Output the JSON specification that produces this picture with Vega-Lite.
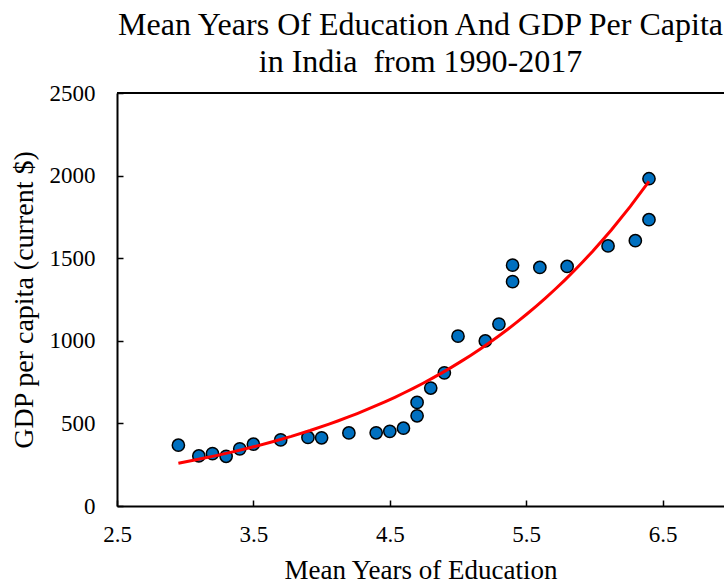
{
  "$schema": "https://vega.github.io/schema/vega-lite/v6.json",
  "width": 607,
  "height": 413,
  "autosize": {"type": "none"},
  "padding": {"left": 117, "top": 93, "right": 0, "bottom": 80},
  "background": "white",
  "config": {"view": {"stroke": null}, "font": "Liberation Serif"},
  "title": {
    "text": ["Mean Years Of Education And GDP Per Capita", "in India\u00a0 from 1990-2017"],
    "font": "Liberation Serif",
    "fontSize": 32,
    "fontWeight": "normal",
    "color": "black",
    "lineHeight": 37,
    "offset": 3,
    "anchor": "middle",
    "frame": "group"
  },
  "data": {
    "values": [
      {"year": 1990, "edu": 2.95, "gdp": 368},
      {"year": 1991, "edu": 3.1, "gdp": 303},
      {"year": 1992, "edu": 3.2, "gdp": 317},
      {"year": 1993, "edu": 3.3, "gdp": 301},
      {"year": 1994, "edu": 3.4, "gdp": 346},
      {"year": 1995, "edu": 3.5, "gdp": 374},
      {"year": 1996, "edu": 3.7, "gdp": 400},
      {"year": 1997, "edu": 3.9, "gdp": 415},
      {"year": 1998, "edu": 4.0, "gdp": 413},
      {"year": 1999, "edu": 4.2, "gdp": 442},
      {"year": 2000, "edu": 4.4, "gdp": 443},
      {"year": 2001, "edu": 4.5, "gdp": 452},
      {"year": 2002, "edu": 4.6, "gdp": 471},
      {"year": 2003, "edu": 4.7, "gdp": 546},
      {"year": 2004, "edu": 4.7, "gdp": 627},
      {"year": 2005, "edu": 4.8, "gdp": 714},
      {"year": 2006, "edu": 4.9, "gdp": 806},
      {"year": 2007, "edu": 5.0, "gdp": 1028},
      {"year": 2008, "edu": 5.2, "gdp": 999},
      {"year": 2009, "edu": 5.3, "gdp": 1101},
      {"year": 2010, "edu": 5.4, "gdp": 1358},
      {"year": 2011, "edu": 5.4, "gdp": 1458},
      {"year": 2012, "edu": 5.6, "gdp": 1444},
      {"year": 2013, "edu": 5.8, "gdp": 1450},
      {"year": 2014, "edu": 6.1, "gdp": 1574},
      {"year": 2015, "edu": 6.3, "gdp": 1606},
      {"year": 2016, "edu": 6.4, "gdp": 1733},
      {"year": 2017, "edu": 6.4, "gdp": 1981}
    ]
  },
  "layer": [
    {
      "mark": {"type": "rule", "color": "black", "strokeWidth": 2},
      "encoding": {"y": {"datum": 2500, "type": "quantitative"}}
    },
    {
      "mark": {"type": "circle", "size": 150, "fill": "#0070C0", "stroke": "black", "strokeWidth": 1.5, "opacity": 1},
      "encoding": {
        "x": {
          "field": "edu",
          "type": "quantitative",
          "scale": {"domain": [2.5, 6.95], "nice": false, "zero": false},
          "axis": {
            "values": [2.5, 3.5, 4.5, 5.5, 6.5],
            "format": ".1f",
            "title": "Mean Years of Education",
            "grid": false,
            "labelFlush": false,
            "labelOverlap": false,
            "domainColor": "black",
            "domainWidth": 2,
            "tickColor": "black",
            "tickSize": -6,
            "tickWidth": 1.5,
            "labelFont": "Liberation Serif",
            "labelFontSize": 23,
            "labelColor": "black",
            "labelPadding": 23,
            "titleFont": "Liberation Serif",
            "titleFontSize": 27,
            "titleFontWeight": "normal",
            "titleColor": "black",
            "titlePadding": 11
          }
        },
        "y": {
          "field": "gdp",
          "type": "quantitative",
          "scale": {"domain": [0, 2500], "nice": false},
          "axis": {
            "values": [0, 500, 1000, 1500, 2000, 2500],
            "format": "d",
            "title": "GDP per capita (current $)",
            "grid": false,
            "labelFlush": false,
            "labelOverlap": false,
            "domainColor": "black",
            "domainWidth": 2,
            "tickColor": "black",
            "tickSize": -6,
            "tickWidth": 1.5,
            "labelFont": "Liberation Serif",
            "labelFontSize": 23,
            "labelColor": "black",
            "labelPadding": 28,
            "titleFont": "Liberation Serif",
            "titleFontSize": 28,
            "titleFontWeight": "normal",
            "titleColor": "black",
            "titlePadding": 11
          }
        }
      }
    },
    {
      "transform": [{"regression": "gdp", "on": "edu", "method": "exp"}],
      "mark": {"type": "line", "color": "red", "strokeWidth": 3},
      "encoding": {
        "x": {"field": "edu", "type": "quantitative"},
        "y": {"field": "gdp", "type": "quantitative"}
      }
    }
  ]
}
